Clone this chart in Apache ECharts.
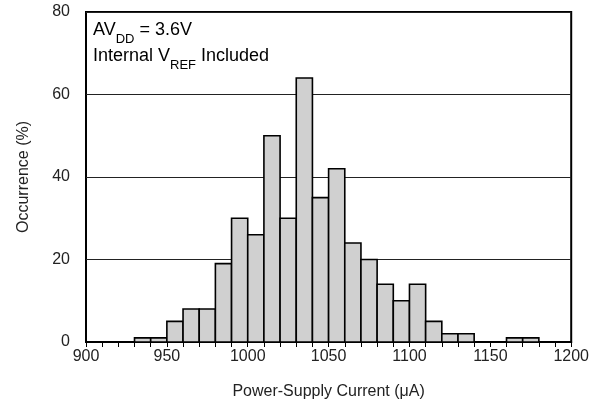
<!DOCTYPE html>
<html>
<head>
<meta charset="utf-8">
<script src="https://cdn.jsdelivr.net/npm/echarts@6/dist/echarts.min.js"></script>
<style>html,body{margin:0;padding:0;background:#fff}#c{width:592px;height:406px}</style>
</head>
<body>
<div id="c"></div>
<script>
const binStarts = [930, 940, 950, 960, 970, 980, 990, 1000, 1010, 1020, 1030, 1040, 1050, 1060, 1070, 1080, 1090, 1100, 1110, 1120, 1130, 1140, 1150, 1160, 1170];
const occurrence = [1, 1, 5, 8, 8, 19, 30, 26, 50, 30, 64, 35, 42, 24, 20, 14, 10, 14, 5, 2, 2, 0, 0, 1, 1];
const binWidth = 10;
const xTitle = 'Power-Supply Current (\u03BCA)';
const yTitle = 'Occurrence (%)';

const FONT = '"Liberation Sans", Arial, sans-serif';
const chart = echarts.init(document.getElementById('c'));
chart.setOption({
  animation: false,
  grid: { left: 86, right: 20, top: 12, bottom: 64, show: true, borderColor: '#000', borderWidth: 2, backgroundColor: 'transparent' },
  xAxis: {
    type: 'value', min: 900, max: 1200, interval: 10,
    name: xTitle, nameLocation: 'middle', nameGap: 42,
    nameTextStyle: { fontFamily: FONT, fontSize: 16, color: '#222' },
    axisLine: { show: true, lineStyle: { color: '#000', width: 2 } },
    axisTick: { show: true, length: 5, lineStyle: { color: '#000', width: 1 } },
    axisLabel: { fontFamily: FONT, fontSize: 16, color: '#222', margin: 7,
      formatter: v => (v % 50 === 0 ? String(v) : '') },
    splitLine: { show: false }
  },
  yAxis: {
    type: 'value', min: 0, max: 80, interval: 20,
    name: yTitle, nameLocation: 'middle', nameGap: 54,
    nameTextStyle: { fontFamily: FONT, fontSize: 16, color: '#222' },
    axisLine: { show: false },
    axisTick: { show: false },
    axisLabel: { fontFamily: FONT, fontSize: 16, color: '#222', margin: 16 },
    splitLine: { show: true, lineStyle: { color: '#222', width: 1 } }
  },
  graphic: [{
    type: 'text', left: 93, top: 21,
    style: {
      text: '{n|AV}{s|DD}{n| = 3.6V}\n{n|Internal V}{s|REF}{n| Included}',
      fontFamily: FONT,
      rich: {
        n: { fontFamily: FONT, fontSize: 18, lineHeight: 26, color: '#222', verticalAlign: 'top' },
        s: { fontFamily: FONT, fontSize: 13, lineHeight: 14, color: '#222', verticalAlign: 'top', padding: [12, 0, 0, 0] }
      }
    }
  }],
  series: [{
    type: 'custom',
    data: binStarts.map((s, i) => [s, occurrence[i]]),
    renderItem: function (params, api) {
      const s = api.value(0), v = api.value(1);
      if (!v) return null;
      const p1 = api.coord([s, v]);
      const p2 = api.coord([s + binWidth, 0]);
      return {
        type: 'rect',
        shape: { x: p1[0], y: p1[1], width: p2[0] - p1[0], height: p2[1] - p1[1] },
        style: { fill: '#d0d0d0', stroke: '#000', lineWidth: 1.6 }
      };
    },
    z: 3
  }]
});
</script>
</body>
</html>
